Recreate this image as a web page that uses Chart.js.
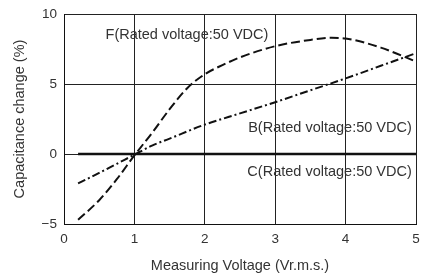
<!DOCTYPE html>
<html>
<head>
<meta charset="utf-8">
<script src="https://cdn.jsdelivr.net/npm/chart.js@4/dist/chart.umd.min.js"></script>
<style>
  html, body { margin: 0; padding: 0; background: #fff; }
  #wrap { width: 421px; height: 276px; }
</style>
</head>
<body>
<div id="wrap"><canvas id="c"></canvas></div>
<script>
// values
var fVolts = [0.2, 0.5, 0.75, 1.0, 1.25, 1.5, 1.75, 2.0, 2.25, 2.5, 3.0, 3.5, 3.8, 4.0, 4.5, 5.0];
var fChange = [-4.7, -3.3, -1.8, -0.1, 1.5, 3.2, 4.7, 5.7, 6.35, 6.9, 7.7, 8.15, 8.3, 8.25, 7.6, 6.6];

var bVolts = [0.2, 0.5, 0.75, 1.0, 1.25, 1.5, 2.0, 2.5, 3.0, 3.5, 4.0, 4.5, 5.0];
var bChange = [-2.1, -1.35, -0.7, -0.05, 0.6, 1.1, 2.1, 2.9, 3.7, 4.55, 5.4, 6.3, 7.2];

var cVolts = [0.2, 5.0];
var cChange = [0, 0];

var seriesNames = ['F(Rated voltage:50 VDC)', 'B(Rated voltage:50 VDC)', 'C(Rated voltage:50 VDC)'];

function pts(xs, ys) {
  return xs.map(function (x, i) { return { x: x, y: ys[i] }; });
}

var FONT = "'Liberation Sans', Arial, sans-serif";
var TEXT = '#333';

// writes the series names inside the plot, anchored in data units
var seriesLabels = {
  id: 'seriesLabels',
  afterDatasetsDraw: function (chart, args, opts) {
    var ctx = chart.ctx;
    var xs = chart.scales.x, ys = chart.scales.y;
    ctx.save();
    ctx.font = '14.5px ' + FONT;
    ctx.fillStyle = TEXT;
    ctx.textBaseline = 'middle';
    opts.items.forEach(function (it) {
      ctx.textAlign = it.align;
      ctx.fillText(it.text, xs.getPixelForValue(it.x), ys.getPixelForValue(it.y));
    });
    ctx.restore();
  }
};

var config = {
  type: 'line',
  data: {
    datasets: [
      {
        label: seriesNames[0],
        data: pts(fVolts, fChange),
        borderColor: '#111',
        borderWidth: 2,
        borderDash: [9, 4],
        pointRadius: 0,
        cubicInterpolationMode: 'monotone',
        fill: false
      },
      {
        label: seriesNames[1],
        data: pts(bVolts, bChange),
        borderColor: '#111',
        borderWidth: 2,
        borderDash: [8, 3, 2, 3],
        pointRadius: 0,
        cubicInterpolationMode: 'monotone',
        fill: false
      },
      {
        label: seriesNames[2],
        data: pts(cVolts, cChange),
        borderColor: '#111',
        borderWidth: 2.5,
        pointRadius: 0,
        fill: false
      }
    ]
  },
  options: {
    responsive: false,
    animation: false,
    layout: { padding: { left: 0, right: 5, top: 14, bottom: 0 } },
    plugins: {
      legend: { display: false },
      tooltip: { enabled: false },
      seriesLabels: {
        items: [
          { text: seriesNames[0], x: 0.59, y: 8.5, align: 'left' },
          { text: seriesNames[1], x: 4.94, y: 1.85, align: 'right' },
          { text: seriesNames[2], x: 4.94, y: -1.25, align: 'right' }
        ]
      }
    },
    scales: {
      x: {
        type: 'linear',
        min: 0,
        max: 5,
        afterFit: function (s) { s.height = 52; s.paddingRight = 0; s.paddingLeft = 0; },
        ticks: { stepSize: 1, padding: 7, color: TEXT, font: { family: FONT, size: 13.5 } },
        grid: { color: '#222', lineWidth: 1, drawTicks: false },
        border: { color: '#111', width: 1 },
        title: {
          display: true,
          text: 'Measuring Voltage (Vr.m.s.)',
          color: TEXT,
          font: { family: FONT, size: 14.5 },
          padding: { top: 0, bottom: 1 }
        }
      },
      y: {
        min: -5,
        max: 10,
        afterFit: function (s) { s.width = 64; s.paddingTop = 0; s.paddingBottom = 0; },
        ticks: {
          stepSize: 5,
          padding: 7,
          color: TEXT,
          font: { family: FONT, size: 13.5 },
          callback: function (v) { return v < 0 ? '\u2212' + Math.abs(v) : String(v); }
        },
        grid: { color: '#222', lineWidth: 1, drawTicks: false },
        border: { color: '#111', width: 1 },
        title: {
          display: true,
          text: 'Capacitance change (%)',
          color: TEXT,
          font: { family: FONT, size: 14.5 },
          padding: { top: 11, bottom: 0 }
        }
      }
    }
  },
  plugins: [seriesLabels]
};

var canvas = document.getElementById('c');
canvas.width = 421;
canvas.height = 276;
window.myChart = new Chart(canvas, config);
</script>
</body>
</html>
